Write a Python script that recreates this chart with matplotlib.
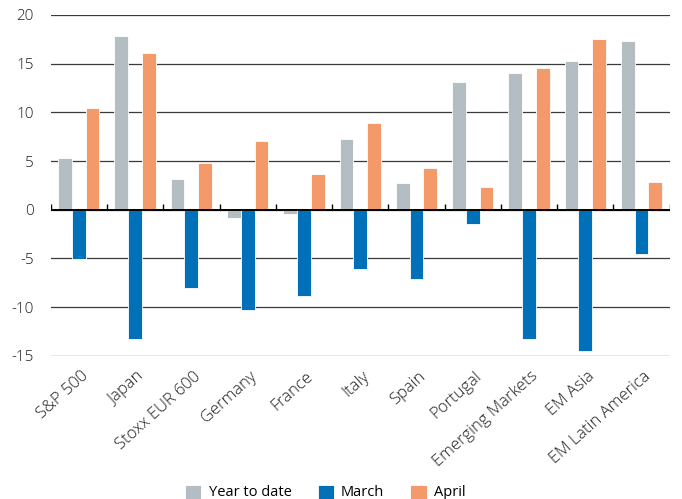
import numpy as np
import matplotlib
matplotlib.use("Agg")
import matplotlib.pyplot as plt

plt.rcParams['font.family'] = ['Open Sans', 'DejaVu Sans']
plt.rcParams['axes.unicode_minus'] = False

categories = ["S&P 500", "Japan", "Stoxx EUR 600", "Germany", "France", "Italy",
              "Spain", "Portugal", "Emerging Markets", "EM Asia", "EM Latin America"]
ytd = [5.3, 17.8, 3.2, -0.8, -0.4, 7.3, 2.7, 13.1, 14.0, 15.3, 17.3]
march = [-5.1, -13.3, -8.0, -10.3, -8.9, -6.1, -7.1, -1.5, -13.3, -14.5, -4.5]
april = [10.4, 16.1, 4.8, 7.1, 3.7, 8.9, 4.3, 2.3, 14.6, 17.5, 2.8]
series_names = ["Year to date", "March", "April"]
colors = ["#b4bec2", "#0070b8", "#f4996a"]

fig = plt.figure(figsize=(6.82, 4.99), dpi=100)
ax = fig.add_axes([0.0743, 0.287, 0.9077, 0.683])

x = np.arange(len(categories))
w = 0.245
for i, (vals, name, c) in enumerate(zip([ytd, march, april], series_names, colors)):
    ax.bar(x + (i - 1) * w, vals, w, color=c, edgecolor='white', linewidth=0.6,
           label=name, zorder=3)

ax.set_xlim(-0.5, len(categories) - 0.5)
ax.set_ylim(-15, 20)
ax.set_yticks(range(-15, 21, 5))
ax.set_yticklabels([str(v) for v in range(-15, 21, 5)], fontweight='light')
ax.yaxis.grid(True, color='#3a3a3a', linewidth=0.9)
ax.set_axisbelow(True)
for s in ax.spines.values():
    s.set_visible(False)
ax.tick_params(axis='y', length=0, pad=12, labelsize=11, labelcolor='#1e1e1e')

# zero line with small boundary ticks
ax.axhline(0, color='black', linewidth=1.4, zorder=4)
ax.vlines(np.arange(len(categories) + 1) - 0.5, 0, 0.55, color='black',
          linewidth=1.0, zorder=4)

ax.set_xticks(x + 0.03)
ax.set_xticklabels(categories, rotation=42, ha='right', va='top',
                   rotation_mode='anchor', fontsize=12, color='#1e1e1e',
                   fontweight='light')
ax.tick_params(axis='x', length=0, pad=9)

fig.legend(loc='center', bbox_to_anchor=(0.477, 0.013), ncol=3,
           frameon=False, fontsize=10.5, handlelength=1.1, handleheight=1.1,
           columnspacing=1.8, handletextpad=0.5)

fig.savefig("out.png", dpi=100)
